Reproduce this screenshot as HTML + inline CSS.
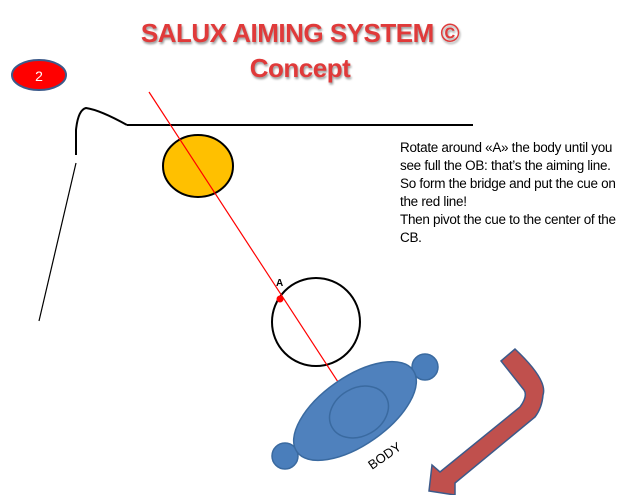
<!DOCTYPE html>
<html><head><style>
html,body{margin:0;padding:0;background:#fff;}
body{width:640px;height:495px;position:relative;overflow:hidden;font-family:"Liberation Sans",sans-serif;}
.t{position:absolute;left:0;width:600px;text-align:center;font-weight:bold;color:#e03a3a;text-shadow:1px 2px 2px #999;font-size:26px;letter-spacing:-0.5px;}
.txt{position:absolute;left:400px;top:139px;font-size:13.5px;line-height:18px;color:#000;width:240px;letter-spacing:-0.3px;white-space:nowrap;}
</style></head><body>
<div class="t" style="top:18px;">SALUX AIMING SYSTEM ©</div>
<div class="t" style="top:53px;">Concept</div>
<svg width="640" height="495" style="position:absolute;left:0;top:0">
<ellipse cx="39" cy="75" rx="27" ry="15" fill="#f00" stroke="#3c5a8a" stroke-width="2"/>
<text x="39" y="81" font-size="14" fill="#fff" text-anchor="middle" font-family="Liberation Sans">2</text>
<line x1="127" y1="125" x2="473" y2="125" stroke="#000" stroke-width="2"/>
<path d="M127,125 Q100,110 86,108 Q78,110 76,130 L76,155" fill="none" stroke="#000" stroke-width="2"/>
<line x1="76" y1="163" x2="39" y2="321" stroke="#000" stroke-width="1.2"/>
<ellipse cx="198" cy="166" rx="35" ry="31" fill="#ffc000" stroke="#000" stroke-width="2"/>
<circle cx="316" cy="322" r="44" fill="none" stroke="#000" stroke-width="2"/>
<line x1="149" y1="92" x2="340" y2="385" stroke="#f00" stroke-width="1.2"/>
<circle cx="280" cy="299" r="3.5" fill="#f00"/>
<text x="276" y="286" font-size="10" font-weight="bold" font-family="Liberation Sans">A</text>
<circle cx="425" cy="367" r="13" fill="#4a7ebb" stroke="#3a6aa0" stroke-width="1.5"/>
<circle cx="285" cy="456" r="13" fill="#4a7ebb" stroke="#3a6aa0" stroke-width="1.5"/>
<ellipse cx="355" cy="411" rx="71" ry="34" transform="rotate(-35 355 411)" fill="#4f81bd" stroke="#3a6aa0" stroke-width="1.5"/>
<ellipse cx="359" cy="412" rx="31" ry="24" transform="rotate(-30 359 412)" fill="#4f81bd" stroke="#3a6aa0" stroke-width="1.5"/>
<text x="0" y="0" font-size="13" font-family="Liberation Sans" transform="translate(372,470) rotate(-35)">BODY</text>
<path d="M501,361 L515,349 Q548,380 543,395 Q542,408 535,417 L455,483 L455,495 L429,491 L432,465 L440,472 L520,407 Q528,396 524,390 Z" fill="#c0504d" stroke="#3c5a8a" stroke-width="1.5"/>
</svg>
<div class="txt">Rotate around «A» the body until you<br>see full the OB: that’s the aiming line.<br>So form the bridge and put the cue on<br>the red line!<br>Then pivot the cue to the center of the<br>CB.</div>
</body></html>
